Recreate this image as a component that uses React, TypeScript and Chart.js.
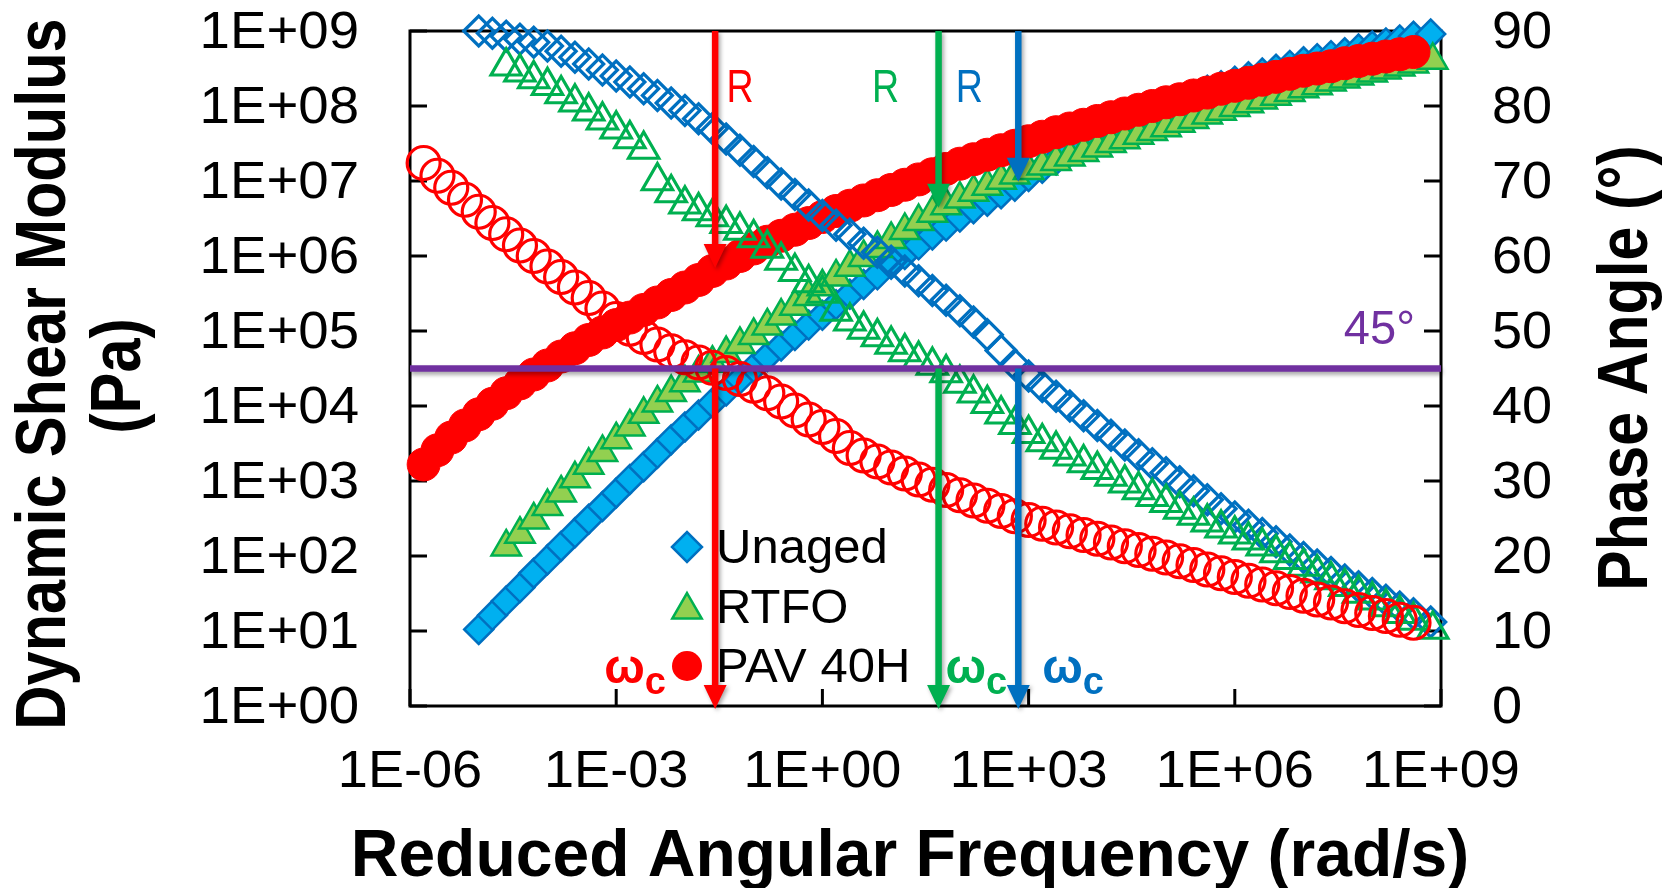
import { useEffect, useRef } from 'react';
import { Chart, registerables } from 'chart.js';

Chart.register(...registerables);

const SANS = '"Liberation Sans", Arial, Helvetica, sans-serif';

// ---- Unaged binder master curve ----
const unagedFrequency = [
  1.00e-5, 1.58e-5, 2.51e-5, 3.98e-5, 6.31e-5,
  1.00e-4, 1.58e-4, 2.51e-4, 3.98e-4, 6.31e-4,
  1.00e-3, 1.58e-3, 2.51e-3, 3.98e-3, 6.31e-3,
  1.00e-2, 1.58e-2, 2.51e-2, 3.98e-2, 6.31e-2,
  1.00e-1, 1.58e-1, 2.51e-1, 3.98e-1, 6.31e-1,
  1.00e0, 1.58e0, 2.51e0, 3.98e0, 6.31e0,
  1.00e1, 1.58e1, 2.51e1, 3.98e1, 6.31e1,
  1.00e2, 1.58e2, 2.51e2, 3.98e2, 6.31e2,
  1.00e3, 1.58e3, 2.51e3, 3.98e3, 6.31e3,
  1.00e4, 1.58e4, 2.51e4, 3.98e4, 6.31e4,
  1.00e5, 1.58e5, 2.51e5, 3.98e5, 6.31e5,
  1.00e6, 1.58e6, 2.51e6, 3.98e6, 6.31e6,
  1.00e7, 1.58e7, 2.51e7, 3.98e7, 6.31e7,
  1.00e8, 1.58e8, 2.51e8, 3.98e8, 7.08e8,
];
const unagedModulus = [
  1.05e1, 1.62e1, 2.51e1, 3.80e1, 5.89e1,
  8.91e1, 1.35e2, 2.04e2, 3.09e2, 4.57e2,
  6.92e2, 1.05e3, 1.55e3, 2.34e3, 3.55e3,
  5.25e3, 7.59e3, 1.10e4, 1.58e4, 2.29e4,
  3.24e4, 4.57e4, 6.31e4, 8.71e4, 1.20e5,
  1.62e5, 2.24e5, 3.09e5, 4.17e5, 5.62e5,
  7.76e5, 1.05e6, 1.41e6, 1.91e6, 2.51e6,
  3.31e6, 4.27e6, 5.37e6, 6.76e6, 8.51e6,
  1.15e7, 1.48e7, 1.91e7, 2.45e7, 3.09e7,
  3.89e7, 4.79e7, 5.89e7, 7.08e7, 8.51e7,
  1.02e8, 1.20e8, 1.41e8, 1.62e8, 1.86e8,
  2.14e8, 2.45e8, 2.75e8, 3.09e8, 3.47e8,
  3.89e8, 4.27e8, 4.68e8, 5.13e8, 5.75e8,
  6.31e8, 6.92e8, 7.59e8, 8.51e8, 9.12e8,
];
const unagedPhase = [
  90.0, 89.7, 89.3, 88.9, 88.5,
  88.0, 87.3, 86.5, 85.6, 84.8,
  84.0, 83.2, 82.3, 81.4, 80.4,
  79.4, 78.3, 77.0, 75.6, 74.1,
  72.6, 71.1, 69.6, 68.2, 66.8,
  65.4, 64.1, 62.9, 61.7, 60.5,
  59.3, 58.0, 56.7, 55.4, 54.1,
  52.7, 51.2, 49.5, 47.4, 45.5,
  44.0, 42.6, 41.3, 40.0, 38.7,
  37.4, 36.1, 34.8, 33.5, 32.3,
  31.1, 29.9, 28.7, 27.5, 26.3,
  25.2, 24.1, 23.0, 21.9, 20.8,
  19.8, 18.8, 17.8, 16.8, 15.9,
  15.0, 14.1, 13.2, 12.3, 11.2,
];

// ---- RTFO-aged binder master curve ----
const rtfoFrequency = [
  2.51e-5, 3.98e-5, 6.31e-5,
  1.00e-4, 1.58e-4, 2.51e-4, 3.98e-4, 6.31e-4,
  1.00e-3, 1.58e-3, 2.51e-3, 3.98e-3, 6.31e-3,
  1.00e-2, 1.58e-2, 2.51e-2, 3.98e-2, 6.31e-2,
  1.00e-1, 1.58e-1, 2.51e-1, 3.98e-1, 6.31e-1,
  1.00e0, 1.58e0, 2.51e0, 3.98e0, 6.31e0,
  1.00e1, 1.58e1, 2.51e1, 3.98e1, 6.31e1,
  1.00e2, 1.58e2, 2.51e2, 3.98e2, 6.31e2,
  1.00e3, 1.58e3, 2.51e3, 3.98e3, 6.31e3,
  1.00e4, 1.58e4, 2.51e4, 3.98e4, 6.31e4,
  1.00e5, 1.58e5, 2.51e5, 3.98e5, 6.31e5,
  1.00e6, 1.58e6, 2.51e6, 3.98e6, 6.31e6,
  1.00e7, 1.58e7, 2.51e7, 3.98e7, 6.31e7,
  1.00e8, 1.58e8, 2.51e8, 3.98e8, 7.59e8,
];
const rtfoModulus = [
  1.32e2, 1.95e2, 3.02e2,
  4.57e2, 6.92e2, 1.07e3, 1.62e3, 2.40e3,
  3.55e3, 5.25e3, 7.76e3, 1.10e4, 1.51e4,
  2.04e4, 2.75e4, 3.72e4, 5.01e4, 6.61e4,
  8.71e4, 1.17e5, 1.58e5, 2.14e5, 2.88e5,
  3.89e5, 5.25e5, 7.08e5, 9.55e5, 1.26e6,
  1.66e6, 2.19e6, 2.88e6, 3.72e6, 4.68e6,
  5.75e6, 7.08e6, 8.51e6, 1.02e7, 1.20e7,
  1.38e7, 1.58e7, 1.82e7, 2.09e7, 2.40e7,
  2.75e7, 3.16e7, 3.55e7, 4.07e7, 4.57e7,
  5.13e7, 5.89e7, 6.61e7, 7.59e7, 8.51e7,
  9.55e7, 1.07e8, 1.20e8, 1.35e8, 1.51e8,
  1.70e8, 1.86e8, 2.09e8, 2.29e8, 2.51e8,
  2.75e8, 3.02e8, 3.31e8, 3.63e8, 4.07e8,
];
const rtfoPhase = [
  85.3, 84.5, 83.6,
  82.7, 81.6, 80.5, 79.3, 78.1,
  76.9, 75.6, 74.2, 70.0, 68.4,
  66.9, 66.0, 65.2, 64.3, 63.4,
  62.4, 61.0, 59.4, 57.9, 56.4,
  55.0, 52.6, 51.3, 50.2, 49.2,
  48.2, 47.2, 46.2, 45.4, 44.4,
  43.0, 41.7, 40.3, 38.9, 37.5,
  36.3, 35.2, 34.2, 33.3, 32.4,
  31.5, 30.6, 29.7, 28.8, 27.9,
  27.1, 26.2, 25.4, 24.5, 23.7,
  22.9, 22.1, 21.3, 20.4, 19.5,
  18.6, 17.7, 16.8, 15.9, 15.0,
  14.1, 13.2, 12.3, 11.4, 10.2,
];

// ---- PAV 40 h aged binder master curve ----
const pavFrequency = [
  1.58e-6, 2.51e-6, 3.98e-6, 6.31e-6,
  1.00e-5, 1.58e-5, 2.51e-5, 3.98e-5, 6.31e-5,
  1.00e-4, 1.58e-4, 2.51e-4, 3.98e-4, 6.31e-4,
  1.00e-3, 1.58e-3, 2.51e-3, 3.98e-3, 6.31e-3,
  1.00e-2, 1.58e-2, 2.51e-2, 3.98e-2, 6.31e-2,
  1.00e-1, 1.58e-1, 2.51e-1, 3.98e-1, 6.31e-1,
  1.00e0, 1.58e0, 2.51e0, 3.98e0, 6.31e0,
  1.00e1, 1.58e1, 2.51e1, 3.98e1, 6.31e1,
  1.00e2, 1.58e2, 2.51e2, 3.98e2, 6.31e2,
  1.00e3, 1.58e3, 2.51e3, 3.98e3, 6.31e3,
  1.00e4, 1.58e4, 2.51e4, 3.98e4, 6.31e4,
  1.00e5, 1.58e5, 2.51e5, 3.98e5, 6.31e5,
  1.00e6, 1.58e6, 2.51e6, 3.98e6, 6.31e6,
  1.00e7, 1.58e7, 2.51e7, 3.98e7, 6.31e7,
  1.00e8, 1.58e8, 2.51e8, 3.98e8,
];
const pavModulus = [
  1.66e3, 2.57e3, 3.80e3, 5.50e3,
  7.76e3, 1.07e4, 1.48e4, 2.00e4, 2.63e4,
  3.47e4, 4.57e4, 5.89e4, 7.59e4, 9.55e4,
  1.20e5, 1.51e5, 1.91e5, 2.40e5, 3.02e5,
  3.80e5, 4.79e5, 6.31e5, 7.94e5, 1.00e6,
  1.26e6, 1.55e6, 1.86e6, 2.24e6, 2.75e6,
  3.31e6, 3.98e6, 4.68e6, 5.50e6, 6.46e6,
  7.59e6, 8.91e6, 1.05e7, 1.23e7, 1.45e7,
  1.70e7, 1.95e7, 2.24e7, 2.57e7, 2.95e7,
  3.39e7, 3.89e7, 4.47e7, 5.01e7, 5.62e7,
  6.31e7, 7.08e7, 7.94e7, 8.91e7, 1.00e8,
  1.12e8, 1.23e8, 1.38e8, 1.51e8, 1.70e8,
  1.86e8, 2.04e8, 2.24e8, 2.45e8, 2.69e8,
  2.95e8, 3.16e8, 3.39e8, 3.72e8, 3.98e8,
  4.27e8, 4.57e8, 4.90e8, 5.25e8,
];
const pavPhase = [
  72.4, 70.7, 69.1, 67.5,
  65.9, 64.4, 62.9, 61.4, 60.0,
  58.6, 57.2, 55.8, 54.4, 53.0,
  51.6, 50.3, 49.2, 48.2, 47.3,
  46.5, 45.8, 45.1, 44.4, 43.6,
  42.7, 41.7, 40.6, 39.4, 38.2,
  37.2, 36.0, 34.4, 33.4, 32.6,
  31.8, 31.0, 30.2, 29.5, 28.8,
  28.1, 27.4, 26.7, 26.0, 25.3,
  24.8, 24.3, 23.8, 23.3, 22.8,
  22.3, 21.8, 21.3, 20.8, 20.3,
  19.8, 19.3, 18.8, 18.2, 17.7,
  17.2, 16.7, 16.2, 15.7, 15.2,
  14.7, 14.2, 13.8, 13.3, 12.8,
  12.4, 12.0, 11.5, 11.1,
];

// ---- axes ----
const frequencyTicks = [1e-6, 1e-3, 1e0, 1e3, 1e6, 1e9];
const frequencyTickLabels = ['1E-06', '1E-03', '1E+00', '1E+03', '1E+06', '1E+09'];
const modulusTicks = [1e0, 1e1, 1e2, 1e3, 1e4, 1e5, 1e6, 1e7, 1e8, 1e9];
const modulusTickLabels = ['1E+00', '1E+01', '1E+02', '1E+03', '1E+04', '1E+05', '1E+06', '1E+07', '1E+08', '1E+09'];
const phaseTicks = [0, 10, 20, 30, 40, 50, 60, 70, 80, 90];
const phaseTickLabels = ['0', '10', '20', '30', '40', '50', '60', '70', '80', '90'];

// ---- crossover (δ = 45°) markers: PAV 40H, RTFO, Unaged ----
const crossoverPhase = 45;
const crossoverFrequency = [0.0275, 49, 708];
const crossoverModulus = [6.9e5, 4.4e6, 9.8e6];

const legendLabels = ['Unaged', 'RTFO', 'PAV 40H'];

const BLUE = '#0070C0';
const BLUE_FILL = '#00B0F0';
const GREEN = '#00B050';
const GREEN_FILL = '#92D050';
const RED = '#FF0000';
const PURPLE = '#7030A0';
const crossoverColors = [RED, GREEN, BLUE];

const TICK_LEN = 17;

type Ctx = CanvasRenderingContext2D;

function drawText(
  ctx: Ctx,
  str: string,
  x: number,
  y: number,
  font: string,
  opts: { color?: string; align?: CanvasTextAlign; rotate?: number; scaleX?: number } = {},
) {
  ctx.save();
  ctx.translate(x, y);
  if (opts.rotate) ctx.rotate(opts.rotate);
  ctx.scale(opts.scaleX ?? 1, 1);
  ctx.font = font;
  ctx.fillStyle = opts.color ?? '#000';
  ctx.textAlign = opts.align ?? 'left';
  ctx.textBaseline = 'alphabetic';
  ctx.fillText(str, 0, 0);
  ctx.restore();
}

function drawArrow(ctx: Ctx, x: number, yStart: number, yTip: number, color: string) {
  const shaft = 6.5;
  const headHalf = 11.5;
  const headLen = 24;
  ctx.save();
  ctx.shadowColor = 'rgba(0,0,0,0.35)';
  ctx.shadowBlur = 4;
  ctx.shadowOffsetX = 2;
  ctx.shadowOffsetY = 2;
  ctx.fillStyle = color;
  ctx.beginPath();
  ctx.moveTo(x - shaft / 2, yStart);
  ctx.lineTo(x + shaft / 2, yStart);
  ctx.lineTo(x + shaft / 2, yTip - headLen);
  ctx.lineTo(x + headHalf, yTip - headLen);
  ctx.lineTo(x, yTip);
  ctx.lineTo(x - headHalf, yTip - headLen);
  ctx.lineTo(x - shaft / 2, yTip - headLen);
  ctx.closePath();
  ctx.fill();
  ctx.restore();
}

function legendDiamond(ctx: Ctx, x: number, y: number, r: number) {
  ctx.beginPath();
  ctx.moveTo(x - r, y);
  ctx.lineTo(x, y - r);
  ctx.lineTo(x + r, y);
  ctx.lineTo(x, y + r);
  ctx.closePath();
}

function legendTriangle(ctx: Ctx, x: number, y: number, r: number) {
  const s = Math.sin((2 * Math.PI) / 3) * r;
  ctx.beginPath();
  ctx.moveTo(x, y - r);
  ctx.lineTo(x + s, y + r / 2);
  ctx.lineTo(x - s, y + r / 2);
  ctx.closePath();
}

const decorations = {
  id: 'decorations',
  beforeDatasetsDraw(chart: any) {
    const { ctx, chartArea: a } = chart;
    const sx = chart.scales.x;
    const sy = chart.scales.y;
    const sp = chart.scales.y2;
    ctx.save();
    ctx.strokeStyle = '#000';
    ctx.lineWidth = 3;
    ctx.beginPath();
    frequencyTicks.forEach((v) => {
      const p = sx.getPixelForValue(v);
      ctx.moveTo(p, a.bottom);
      ctx.lineTo(p, a.bottom - TICK_LEN);
    });
    modulusTicks.forEach((v) => {
      const p = sy.getPixelForValue(v);
      ctx.moveTo(a.left, p);
      ctx.lineTo(a.left + TICK_LEN, p);
    });
    phaseTicks.forEach((v) => {
      const p = sp.getPixelForValue(v);
      ctx.moveTo(a.right, p);
      ctx.lineTo(a.right - TICK_LEN, p);
    });
    ctx.stroke();
    ctx.strokeRect(a.left, a.top, a.right - a.left, a.bottom - a.top);
    ctx.restore();
  },
  afterDatasetsDraw(chart: any) {
    const { ctx, chartArea: a } = chart;
    const sx = chart.scales.x;
    const sy = chart.scales.y;
    const sp = chart.scales.y2;
    const y45 = sp.getPixelForValue(crossoverPhase);

    // 45° reference line
    ctx.save();
    ctx.shadowColor = 'rgba(0,0,0,0.35)';
    ctx.shadowBlur = 4;
    ctx.shadowOffsetX = 1;
    ctx.shadowOffsetY = 3;
    ctx.strokeStyle = PURPLE;
    ctx.lineWidth = 6.5;
    ctx.beginPath();
    ctx.moveTo(a.left, y45);
    ctx.lineTo(a.right, y45);
    ctx.stroke();
    ctx.restore();
    drawText(ctx, '45°', a.right - 26, y45 - 25, `48px ${SANS}`, { color: PURPLE, align: 'right', scaleX: 0.98 });

    // legend
    const lx = 687;
    const rows = [547, 607, 666];
    ctx.save();
    ctx.lineWidth = 2.5;
    legendDiamond(ctx, lx, rows[0], 15);
    ctx.fillStyle = BLUE_FILL;
    ctx.strokeStyle = BLUE;
    ctx.fill();
    ctx.stroke();
    legendTriangle(ctx, lx, rows[1] + 3, 17);
    ctx.fillStyle = GREEN_FILL;
    ctx.strokeStyle = GREEN;
    ctx.fill();
    ctx.stroke();
    ctx.beginPath();
    ctx.arc(lx, rows[2], 15, 0, Math.PI * 2);
    ctx.fillStyle = RED;
    ctx.fill();
    ctx.restore();
    legendLabels.forEach((label, i) => {
      drawText(ctx, label, 716, rows[i] + 16, `49px ${SANS}`);
    });

    // crossover arrows and labels
    const rOffset = [25, -53, -49];
    const wOffset = [-111, 7, 24];
    crossoverFrequency.forEach((f, i) => {
      const x = sx.getPixelForValue(f);
      const color = crossoverColors[i];
      drawArrow(ctx, x, a.top, sy.getPixelForValue(crossoverModulus[i]), color);
      drawArrow(ctx, x, y45, a.bottom + 3, color);
      drawText(ctx, 'R', x + rOffset[i], 102, `47px ${SANS}`, { color, align: 'center', scaleX: 0.8 });
      const wx = x + wOffset[i];
      ctx.save();
      ctx.font = `bold 48px ${SANS}`;
      const ww = ctx.measureText('ω').width;
      ctx.restore();
      drawText(ctx, 'ω', wx, 683, `bold 48px ${SANS}`, { color });
      drawText(ctx, 'c', wx + ww, 694, `bold 38px ${SANS}`, { color });
    });
  },
  afterDraw(chart: any) {
    const { ctx, chartArea: a } = chart;
    const sx = chart.scales.x;
    const sy = chart.scales.y;
    const sp = chart.scales.y2;
    const tickFont = `52px ${SANS}`;
    frequencyTicks.forEach((v, i) => {
      drawText(ctx, frequencyTickLabels[i], sx.getPixelForValue(v), 787, tickFont, { align: 'center', scaleX: 1.04 });
    });
    modulusTicks.forEach((v, i) => {
      drawText(ctx, modulusTickLabels[i], 359, sy.getPixelForValue(v) + 17, tickFont, { align: 'right', scaleX: 1.05 });
    });
    phaseTicks.forEach((v, i) => {
      drawText(ctx, phaseTickLabels[i], a.right + 51, sp.getPixelForValue(v) + 17, tickFont, { align: 'left', scaleX: 1.04 });
    });

    const titleFont = `bold 70px ${SANS}`;
    drawText(ctx, 'Dynamic Shear Modulus', 65, 374, titleFont, { align: 'center', rotate: -Math.PI / 2, scaleX: 0.875 });
    drawText(ctx, '(Pa)', 140, 376, titleFont, { align: 'center', rotate: -Math.PI / 2, scaleX: 0.875 });
    drawText(ctx, 'Phase Angle (°)', 1647, 368, titleFont, { align: 'center', rotate: -Math.PI / 2, scaleX: 0.866 });
    drawText(ctx, 'Reduced Angular Frequency (rad/s)', 910, 876, `bold 66px ${SANS}`, { align: 'center' });
  },
};

const toPoints = (xs: number[], ys: number[]) => xs.map((x, i) => ({ x, y: ys[i] }));

const pointSet = (
  label: string,
  xs: number[],
  ys: number[],
  axis: string,
  style: string,
  radius: number,
  fill: string,
  stroke: string,
  width: number,
  order: number,
) => ({
  label,
  data: toPoints(xs, ys),
  yAxisID: axis,
  showLine: false,
  pointStyle: style,
  pointRadius: radius,
  pointHoverRadius: radius,
  pointBackgroundColor: fill,
  pointBorderColor: stroke,
  pointBorderWidth: width,
  backgroundColor: fill,
  borderColor: stroke,
  clip: false,
  order,
});

const CLEAR = 'rgba(0,0,0,0)';

export default function App() {
  const canvasRef = useRef<HTMLCanvasElement>(null);

  useEffect(() => {
    const canvas = canvasRef.current;
    if (!canvas) return;
    const chart = new Chart(canvas, {
      type: 'scatter',
      data: {
        datasets: [
          pointSet('Unaged G*', unagedFrequency, unagedModulus, 'y', 'rectRot', 14.5, BLUE_FILL, BLUE, 2.5, 6),
          pointSet('RTFO G*', rtfoFrequency, rtfoModulus, 'y', 'triangle', 17, GREEN_FILL, GREEN, 2.5, 5),
          pointSet('PAV 40H G*', pavFrequency, pavModulus, 'y', 'circle', 16.5, RED, RED, 1, 4),
          pointSet('Unaged δ', unagedFrequency, unagedPhase, 'y2', 'rectRot', 15, CLEAR, BLUE, 3.2, 3),
          pointSet('RTFO δ', rtfoFrequency, rtfoPhase, 'y2', 'triangle', 17.5, CLEAR, GREEN, 3.2, 2),
          pointSet('PAV 40H δ', pavFrequency, pavPhase, 'y2', 'circle', 16.5, CLEAR, RED, 3.2, 1),
        ] as any,
      },
      options: {
        animation: false,
        responsive: false,
        devicePixelRatio: 1,
        maintainAspectRatio: false,
        layout: { padding: { top: 31, left: 0, right: 0, bottom: 0 } },
        plugins: {
          legend: { display: false },
          tooltip: { enabled: false },
        },
        scales: {
          x: {
            type: 'logarithmic',
            position: 'bottom',
            min: 1e-6,
            max: 1e9,
            grid: { display: false, drawTicks: false },
            border: { display: false },
            ticks: { display: false },
            afterBuildTicks: (s: any) => {
              s.ticks = frequencyTicks.map((value) => ({ value }));
            },
            afterFit: (s: any) => {
              s.height = 888 - 706;
            },
          },
          y: {
            type: 'logarithmic',
            position: 'left',
            min: 1,
            max: 1e9,
            grid: { display: false, drawTicks: false },
            border: { display: false },
            ticks: { display: false },
            afterBuildTicks: (s: any) => {
              s.ticks = modulusTicks.map((value) => ({ value }));
            },
            afterFit: (s: any) => {
              s.width = 410;
            },
          },
          y2: {
            type: 'linear',
            position: 'right',
            min: 0,
            max: 90,
            grid: { display: false, drawTicks: false },
            border: { display: false },
            ticks: { display: false },
            afterBuildTicks: (s: any) => {
              s.ticks = phaseTicks.map((value) => ({ value }));
            },
            afterFit: (s: any) => {
              s.width = 1676 - 1441;
            },
          },
        },
      } as any,
      plugins: [decorations],
    });
    return () => chart.destroy();
  }, []);

  return (
    <div style={{ position: 'absolute', left: 0, top: 0, width: 1676, height: 888, background: '#ffffff' }}>
      <canvas ref={canvasRef} width={1676} height={888} style={{ display: 'block', width: 1676, height: 888 }} />
    </div>
  );
}
